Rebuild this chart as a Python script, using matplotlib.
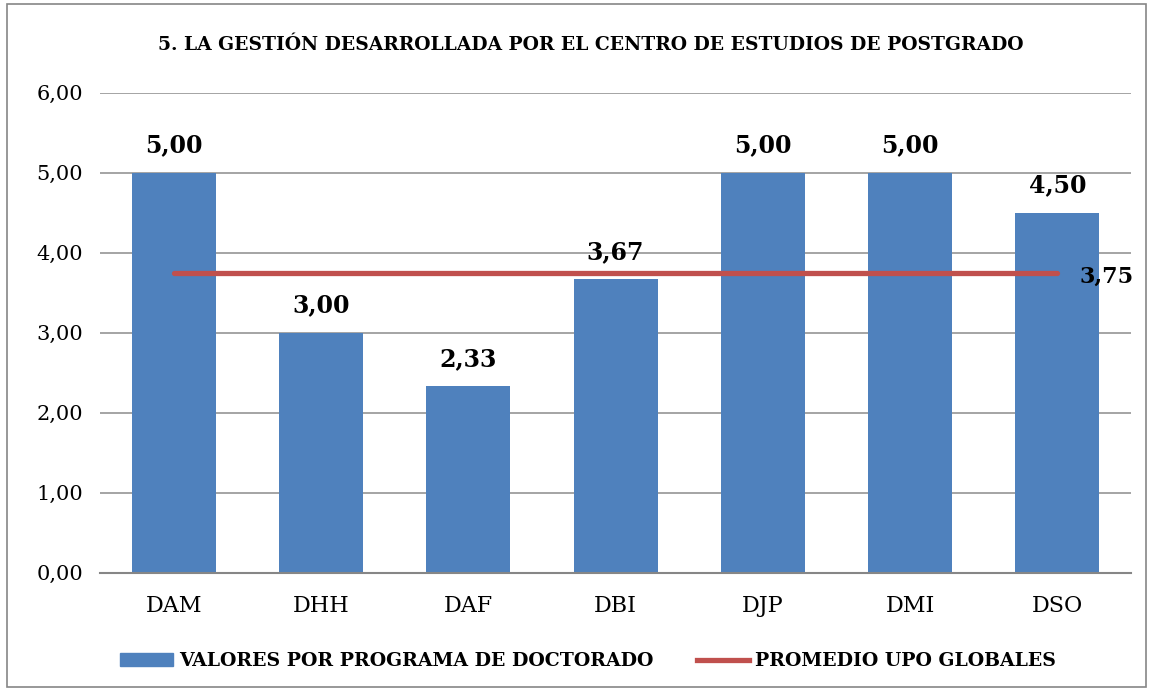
import numpy as np
import matplotlib.pyplot as plt
from matplotlib.patches import Rectangle

# datos del gráfico
programas = ["DAM", "DHH", "DAF", "DBI", "DJP", "DMI", "DSO"]
valores = [5.00, 3.00, 2.33, 3.67, 5.00, 5.00, 4.50]
promedio = 3.75
titulo = "5. LA GESTIÓN DESARROLLADA POR EL CENTRO DE ESTUDIOS DE POSTGRADO"
serie_barras = "VALORES POR PROGRAMA DE DOCTORADO"
serie_linea = "PROMEDIO UPO GLOBALES"

azul = "#4F81BD"
rojo = "#C0504D"
plt.rcParams['font.family'] = ['DejaVu Serif']

fig = plt.figure(figsize=(11.53, 6.91), dpi=100)
ax = fig.add_axes([0.0867, 0.1712, 0.8943, 0.6946])

x = np.arange(len(programas))
ax.bar(x, valores, width=0.57, color=azul, zorder=2)
ax.plot(x, [promedio] * len(x), color=rojo, lw=3.8, solid_capstyle='round', zorder=3)

for xi, v in zip(x, valores):
    ax.annotate(f"{v:.2f}".replace(".", ","), (xi, v), xytext=(0, 11),
                textcoords='offset points', ha='center', va='bottom',
                fontsize=17, fontweight='bold')
ax.annotate(f"{promedio:.2f}".replace(".", ","), (x[-1], promedio), xytext=(16, -3),
            textcoords='offset points', ha='left', va='center',
            fontsize=16, fontweight='bold')

ax.set_xlim(-0.5, len(programas) - 0.5)
ax.set_ylim(0, 6)
ax.set_yticks(np.arange(0, 7, 1))
ax.set_yticklabels([f"{t:.2f}".replace(".", ",") for t in range(7)], fontsize=15)
ax.set_xticks(x)
ax.set_xticklabels(programas, fontsize=16)
ax.tick_params(length=0, pad=16)
ax.tick_params(axis='y', pad=12)
ax.yaxis.grid(True, color='#8C8C8C', lw=1.1, zorder=0)
for s in ['top', 'right', 'left']:
    ax.spines[s].set_visible(False)
ax.spines['bottom'].set_color('#868686')
ax.spines['bottom'].set_linewidth(1.5)

fig.text(0.512, 0.935, titulo, ha='center', va='center', fontsize=13.5, fontweight='bold')

# leyenda inferior
h1 = Rectangle((0, 0), 1, 1, color=azul)
h2, = ax.plot([], [], color=rojo, lw=3.8)
fig.legend([h1, h2], [serie_barras, serie_linea], loc='center',
           bbox_to_anchor=(0.51, 0.043), ncol=2, frameon=False,
           prop={'size': 13.6, 'weight': 'bold'}, handlelength=2.8,
           handletextpad=0.3, columnspacing=2.3, handleheight=0.7)

# marco exterior
fig.patches.append(Rectangle((0.006, 0.006), 0.988, 0.988, transform=fig.transFigure,
                             fill=False, edgecolor='#868686', lw=1.2))

fig.savefig("out.png", dpi=100)
